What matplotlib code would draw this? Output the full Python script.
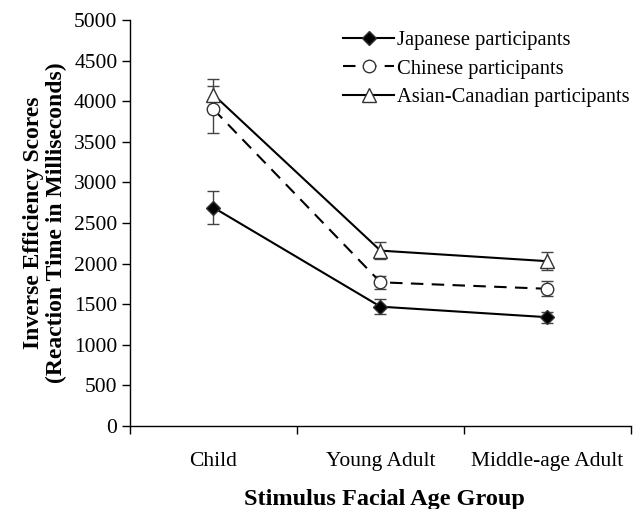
import numpy as np
import matplotlib
matplotlib.use("Agg")
import matplotlib.pyplot as plt

# data
groups = ["Child", "Young Adult", "Middle-age Adult"]
japanese = [2690, 1470, 1340]
japanese_err = [200, 90, 70]
chinese = [3900, 1770, 1690]
chinese_err = [290, 80, 90]
asian_canadian = [4080, 2160, 2030]
asian_canadian_err = [195, 105, 110]

plt.rcParams['font.family'] = ['Liberation Serif', 'DejaVu Serif']

fig = plt.figure(figsize=(6.35, 5.09), dpi=100)
ax = fig.add_axes([0.2047, 0.163, 0.7890, 0.7977])

x = np.arange(len(groups))

series = [
    (japanese, japanese_err, "Japanese participants",
     dict(marker='D', markersize=7, markerfacecolor='black', linestyle='-')),
    (chinese, chinese_err, "Chinese participants",
     dict(marker='o', markersize=9, markerfacecolor='white', linestyle=(0, (6, 4)))),
    (asian_canadian, asian_canadian_err, "Asian-Canadian participants",
     dict(marker='^', markersize=10, markerfacecolor='white', linestyle='-')),
]

lines = []
for vals, errs, label, style in series:
    cont = ax.errorbar(x, vals, yerr=errs, color='black', ecolor='#444444',
                       elinewidth=1.0, capsize=4, capthick=1.0, linewidth=1.5,
                       markeredgecolor='#333333', markeredgewidth=1.0,
                       label=label, **style)
    lines.append(cont[0])

ax.set_xlim(-0.5, 2.5)
ax.set_ylim(0, 5000)
ax.set_yticks(np.arange(0, 5001, 500))

# category labels centred, ticks at the group boundaries
ax.set_xticks(x)
ax.set_xticklabels(groups)
ax.set_xticks(np.arange(-0.5, 2.6, 1.0), minor=True)
ax.tick_params(axis='x', which='major', length=0, pad=19, labelsize=15.5)
ax.tick_params(axis='x', which='minor', length=6, direction='out', width=1)
ax.tick_params(axis='y', length=6, direction='out', labelsize=15.5, width=1,
               pad=3)

for side in ['top', 'right']:
    ax.spines[side].set_visible(False)
for side in ['left', 'bottom']:
    ax.spines[side].set_linewidth(1.0)

ax.set_xlabel("Stimulus Facial Age Group", fontsize=17.5, fontweight='bold')
ax.xaxis.set_label_coords(0.507, -0.155)
ax.set_ylabel("Inverse Efficiency Scores\n(Reaction Time in Milliseconds)",
              fontsize=17, fontweight='bold', labelpad=5, linespacing=1.1)

ax.legend(lines, [s[2] for s in series], loc='upper left',
          bbox_to_anchor=(0.54, 0.94), bbox_transform=fig.transFigure,
          frameon=False, fontsize=14.8, handlelength=2.5, handletextpad=0.15,
          labelspacing=0.45, borderaxespad=0.0, borderpad=0.0)

fig.savefig("out.png", dpi=100)
